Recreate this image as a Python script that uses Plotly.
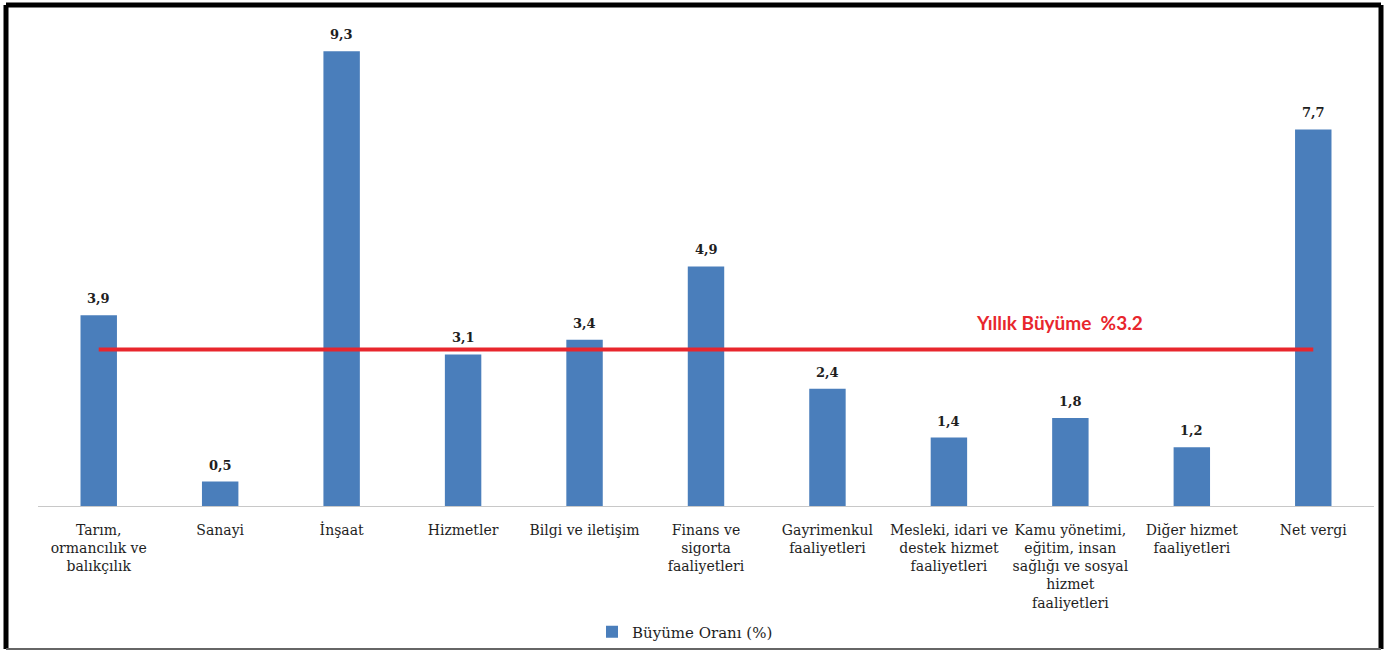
import plotly.graph_objects as go

# Sectoral growth rates (%)
categories = [
    "Tarım,<br>ormancılık ve<br>balıkçılık",
    "Sanayi",
    "İnşaat",
    "Hizmetler",
    "Bilgi ve iletişim",
    "Finans ve<br>sigorta<br>faaliyetleri",
    "Gayrimenkul<br>faaliyetleri",
    "Mesleki, idari ve<br>destek hizmet<br>faaliyetleri",
    "Kamu yönetimi,<br>eğitim, insan<br>sağlığı ve sosyal<br>hizmet<br>faaliyetleri",
    "Diğer hizmet<br>faaliyetleri",
    "Net vergi",
]
growth = [3.9, 0.5, 9.3, 3.1, 3.4, 4.9, 2.4, 1.4, 1.8, 1.2, 7.7]
annual_growth = 3.2
series_name = "Büyüme Oranı (%)"
annual_label = "Yıllık Büyüme  %3.2"

W, H = 1393, 651
ML, MR, MT, MB = 38, 19, 30, 145
plot_w = W - ML - MR
plot_h = H - MT - MB

BAR = "#4A7EBB"
RED = "#E8262D"
FONT = "DejaVu Serif"
TEXT = "#1E1E1E"


def px_x(px):
    return (px - ML) / plot_w


def px_y(py):
    return (H - MB - py) / plot_h


labels = [f"{v:.1f}".replace(".", ",") for v in growth]

fig = go.Figure()
fig.add_trace(go.Bar(
    x=categories, y=growth, name=series_name,
    marker=dict(color=BAR, line=dict(width=0)),
    width=0.3,
))
fig.add_trace(go.Scatter(
    x=[categories[0], categories[-1]], y=[annual_growth, annual_growth],
    mode="lines", line=dict(color=RED, width=4), showlegend=False,
    hoverinfo="skip",
))

# Value labels above each bar
for cat, val, lab in zip(categories, growth, labels):
    fig.add_annotation(
        x=cat, y=val, xref="x", yref="y", text=lab, showarrow=False,
        xanchor="center", yanchor="bottom", yshift=7,
        font=dict(family=FONT, size=13, color=TEXT, weight="bold"),
    )

fig.add_annotation(
    x=px_x(1059), y=annual_growth, xref="paper", yref="y",
    xanchor="center", yanchor="middle",
    yshift=27, text=annual_label, showarrow=False,
    font=dict(family="Lato", size=19, color=RED, weight="bold"),
)

# Outer frame
frame = [
    (6, 5, 1381, 5, "black", 5),
    (6, 5, 6, 649, "black", 5),
    (1381, 5, 1381, 649, "black", 5),
    (6, 649, 1381, 649, "#666666", 2),
]
for x0, y0, x1, y1, c, w in frame:
    fig.add_shape(type="line", xref="paper", yref="paper",
                  x0=px_x(x0), y0=px_y(y0), x1=px_x(x1), y1=px_y(y1),
                  line=dict(color=c, width=w), layer="above")

fig.update_layout(
    width=W, height=H,
    margin=dict(l=ML, r=MR, t=MT, b=MB, autoexpand=False),
    paper_bgcolor="white", plot_bgcolor="white",
    font=dict(family=FONT, size=14, color=TEXT),
    showlegend=True,
    legend=dict(orientation="h", x=px_x(592), xanchor="left",
                y=px_y(632), yanchor="middle",
                bgcolor="rgba(0,0,0,0)",
                font=dict(family=FONT, size=15, color=TEXT)),
    xaxis=dict(showline=True, linecolor="#C8C8C8", linewidth=1,
               ticks="", showgrid=False, tickangle=0, automargin=False,
               ticklabelstandoff=11,
               tickfont=dict(family=FONT, size=14, color=TEXT)),
    yaxis=dict(range=[0, plot_h / 48.9], visible=False, showgrid=False,
               automargin=False),
    bargap=0.7,
)

fig.write_html("out.html")
